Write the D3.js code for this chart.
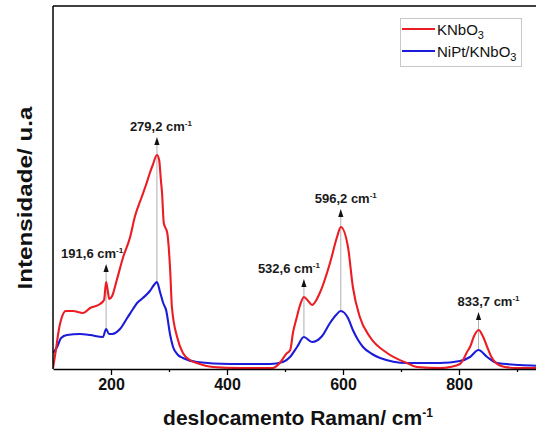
<!DOCTYPE html>
<html>
<head>
<meta charset="utf-8">
<script src="https://cdn.jsdelivr.net/npm/d3@7"></script>
<style>
  body { margin: 0; background: #fff; }
  svg { display: block; font-family: "Liberation Sans", Arial, sans-serif; }
</style>
</head>
<body>
<svg id="chart"></svg>
<script>
// Raman spectra (wavenumber in cm-1, intensity in arbitrary units)
var knbo3Shift = [100, 105, 110, 116, 122, 134, 152, 164, 181, 188, 191.6, 194, 197, 202, 210, 221, 233, 241, 253, 262, 267, 272, 279.2, 283, 286, 288, 291, 297, 302, 305, 314, 324, 336, 348, 376, 422, 479, 491, 502, 509, 514, 520, 526, 532.6, 540, 546.6, 560, 577.6, 589.7, 596.2, 608.6, 617, 629, 646.5, 676, 710, 727.6, 767, 784.5, 801.7, 807, 813.8, 819, 826, 833.7, 841, 848.6, 856, 862, 879, 900, 950];
var knbo3Int   = [1, 19, 39, 53, 58, 58, 56, 61, 65, 69, 87, 80, 70, 73, 89, 112, 132, 152, 172, 187, 196, 204, 214, 209, 189, 176, 146, 136, 99, 62, 32, 16, 9, 6, 2, 1, 1, 6, 15, 19, 37, 51, 64, 72, 68, 64, 76, 106, 132, 142, 122, 82, 52, 32, 16, 6, 2, 1, 2, 5, 9, 17, 22, 33, 39, 33, 22, 12, 7, 2, 1, 1];

var niptShift = [100, 107, 114, 124, 146.5, 164, 186, 191.6, 196.5, 202, 215.5, 229, 238, 245, 255, 267, 274, 279.2, 284.5, 290, 295, 302, 307, 315.5, 324, 348, 405, 474, 496.5, 508.6, 520.7, 532.6, 546.6, 564, 577.6, 588, 596.2, 608.6, 617, 626, 634.5, 650, 664, 710, 767, 801.7, 819, 833.7, 848.6, 865.5, 905, 950];
var niptInt   = [16, 22, 31, 34, 35, 34, 32, 40, 35, 35, 40, 52, 60, 66, 71, 78, 84, 87, 77, 66, 59, 34, 22, 14, 11, 7, 5, 5, 7, 12, 22, 32, 27, 33, 46, 54, 58, 51, 39, 29, 22, 15, 11, 6, 6, 8, 12, 19, 12, 6, 4, 3];

var peakShift  = [191.6, 279.2, 532.6, 596.2, 833.7];
var peakLabels = ["191,6", "279,2", "532,6", "596,2", "833,7"];
var labelShift = [-14, 4, -15, 5, 10];   // horizontal nudge of each label

var majorTicks = [200, 400, 600, 800];
var minorTicks = [300, 500, 700, 900];

var seriesNames = ["KNbO", "NiPt/KNbO"];
var seriesColors = ["#ec1c24", "#1c1cd8"];

var W = 536, H = 434;
var plotLeft = 53, plotTop = 6, plotBottom = 369;

var svg = d3.select("#chart").attr("width", W).attr("height", H);

var x = d3.scaleLinear().domain([100, 950]).range([plotLeft, plotLeft + 850 * 0.58]);
var y = d3.scaleLinear().domain([0, 363]).range([plotBottom, plotTop]);

svg.append("clipPath").attr("id", "clip")
  .append("rect").attr("x", plotLeft).attr("y", plotTop)
  .attr("width", W - plotLeft).attr("height", plotBottom - plotTop);

function series(xs, ys) {
  return xs.map(function (d, i) { return [d, ys[i]]; });
}
var line = d3.line()
  .x(function (d) { return x(d[0]); })
  .y(function (d) { return y(d[1]); })
  .curve(d3.curveMonotoneX);

var red = series(knbo3Shift, knbo3Int);
var blue = series(niptShift, niptInt);

function valueAt(xs, ys, v) {
  var i = xs.indexOf(v);
  if (i >= 0) return ys[i];
  return d3.scaleLinear().domain(xs).range(ys)(v);
}

// gray guide lines under the arrows
var ann = svg.append("g");
peakShift.forEach(function (p, i) {
  var tip = y(valueAt(knbo3Shift, knbo3Int, p)) - 18;
  ann.append("line")
    .attr("x1", x(p)).attr("x2", x(p))
    .attr("y1", tip + 7).attr("y2", y(valueAt(niptShift, niptInt, p)))
    .attr("stroke", "#9a9a9a").attr("stroke-width", 0.8);
});

var plot = svg.append("g").attr("clip-path", "url(#clip)");
plot.append("path").datum(blue).attr("d", line)
  .attr("fill", "none").attr("stroke", seriesColors[1]).attr("stroke-width", 2.1);
plot.append("path").datum(red).attr("d", line)
  .attr("fill", "none").attr("stroke", seriesColors[0]).attr("stroke-width", 2.1);

// arrows and peak labels
peakShift.forEach(function (p, i) {
  var px = x(p);
  var tip = y(valueAt(knbo3Shift, knbo3Int, p)) - 18;
  ann.append("path")
    .attr("d", "M" + px + "," + tip + "L" + (px - 2.6) + "," + (tip + 8) + "L" + (px + 2.6) + "," + (tip + 8) + "Z")
    .attr("fill", "#111");
  var t = svg.append("text")
    .attr("x", px + labelShift[i]).attr("y", tip - 6)
    .attr("text-anchor", "middle")
    .attr("font-size", 13).attr("font-weight", "bold").attr("fill", "#1a1a1a");
  t.append("tspan").text(peakLabels[i] + " cm");
  t.append("tspan").attr("dy", -5).attr("font-size", 8).text("-1");
});

// frame
svg.append("line").attr("x1", plotLeft).attr("x2", W).attr("y1", plotTop).attr("y2", plotTop)
  .attr("stroke", "#000").attr("stroke-width", 1.5);
svg.append("line").attr("x1", plotLeft).attr("x2", plotLeft).attr("y1", plotTop).attr("y2", plotBottom)
  .attr("stroke", "#000").attr("stroke-width", 1.5);

var xAxis = svg.append("g").attr("transform", "translate(0," + plotBottom + ")")
  .call(d3.axisBottom(x).tickValues(majorTicks).tickSize(6).tickSizeOuter(0).tickPadding(4));
xAxis.select(".domain").attr("stroke-width", 1.5);
xAxis.selectAll(".tick line").attr("stroke-width", 1.3);
xAxis.selectAll(".tick text").attr("font-size", 16).attr("font-weight", "bold")
  .attr("font-family", "Liberation Sans, Arial, sans-serif").attr("fill", "#111");
svg.append("g").attr("transform", "translate(0," + plotBottom + ")")
  .call(d3.axisBottom(x).tickValues(minorTicks).tickSize(3).tickFormat(""))
  .call(function (g) { g.select(".domain").remove(); })
  .selectAll(".tick line").attr("stroke-width", 1.3);

// axis titles
var xt = svg.append("text").attr("x", 298).attr("y", 425).attr("text-anchor", "middle")
  .attr("font-size", 21).attr("font-weight", "bold").attr("fill", "#111");
xt.append("tspan").text("deslocamento Raman/ cm");
xt.append("tspan").attr("dy", -8).attr("font-size", 12).text("-1");

svg.append("text")
  .attr("transform", "translate(32,198) rotate(-90)")
  .attr("text-anchor", "middle")
  .attr("font-size", 20).attr("font-weight", "bold").attr("fill", "#111")
  .attr("textLength", 183).attr("lengthAdjust", "spacingAndGlyphs")
  .text("Intensidade/ u.a");

// legend
var lg = svg.append("g");
lg.append("rect").attr("x", 400.5).attr("y", 18.5).attr("width", 121).attr("height", 48)
  .attr("fill", "#fff").attr("stroke", "#c8c8c8").attr("stroke-width", 1);
seriesNames.forEach(function (name, i) {
  var ly = 29 + i * 22;
  lg.append("line").attr("x1", 402).attr("x2", 435).attr("y1", ly).attr("y2", ly)
    .attr("stroke", seriesColors[i]).attr("stroke-width", 2);
  var t = lg.append("text").attr("x", 437).attr("y", ly + 5.5)
    .attr("font-size", 15).attr("fill", "#111");
  t.append("tspan").text(name);
  t.append("tspan").attr("dy", 4).attr("font-size", 11).text("3");
});
</script>
</body>
</html>
